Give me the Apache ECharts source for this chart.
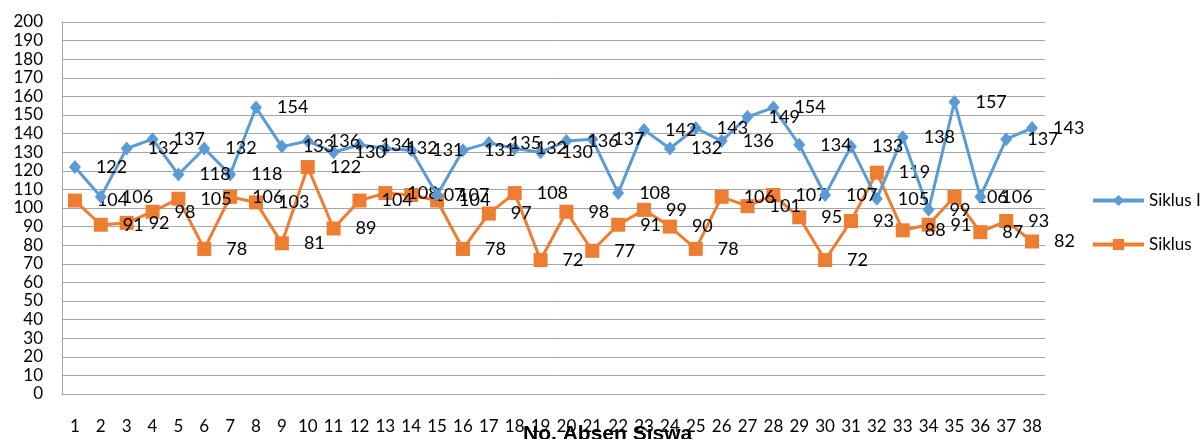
<!DOCTYPE html>
<html>
<head>
<meta charset="utf-8">
<script src="https://cdn.jsdelivr.net/npm/echarts@6/dist/echarts.min.js"></script>
<style>
html,body{margin:0;padding:0;background:#fff;}
#chart{width:1203px;height:439px;}
</style>
</head>
<body>
<div id="chart"></div>
<script>
const categories = ['1','2','3','4','5','6','7','8','9','10','11','12','13','14','15','16','17','18','19','20','21','22','23','24','25','26','27','28','29','30','31','32','33','34','35','36','37','38'];
const siklusI = [122,106,132,137,118,132,118,154,133,136,130,134,132,131,107,131,135,132,130,136,137,108,142,132,143,136,149,154,134,107,133,105,138,99,157,106,137,143];
const siklusII = [104,91,92,98,105,78,106,103,81,122,89,104,108,107,104,78,97,108,72,98,77,91,99,90,78,106,101,107,95,72,93,119,88,91,106,87,93,82];
const seriesNames = ['Siklus I','Siklus'];
const axisTitle = 'No. Absen Siswa';

const font = 'Lato, "Open Sans", sans-serif';
const chart = echarts.init(document.getElementById('chart'), null, {renderer:'canvas'});
const labelStyle = {show:true, position:'right', distance:15, color:'#000', fontSize:18, fontFamily:font};
chart.setOption({
  animation:false,
  textStyle:{fontFamily:font},
  title:{text:axisTitle, left:523, top:424, padding:0, textStyle:{fontSize:21, fontWeight:'bold', color:'#000', fontFamily:'"Liberation Sans", Arial, sans-serif'}},
  grid:{left:62, right:158, top:22, bottom:45, containLabel:false},
  legend:{
    orient:'vertical', left:1086, top:187, itemWidth:51, itemHeight:14, itemGap:27,
    textStyle:{fontSize:17, color:'#000', fontFamily:font},
    lineStyle:{width:4},
    data:[
      {name:seriesNames[0], lineStyle:{width:4, color:'#5B9BD5'}},
      {name:seriesNames[1], lineStyle:{width:4, color:'#ED7D31'}}
    ]
  },
  xAxis:{
    type:'category', data:categories, boundaryGap:true,
    axisLine:{lineStyle:{color:'#a6a6a6', width:1}},
    axisTick:{show:false},
    axisLabel:{interval:0, color:'#000', fontSize:17, margin:24, fontFamily:font}
  },
  yAxis:{
    type:'value', min:0, max:200, interval:10,
    axisLine:{show:true, lineStyle:{color:'#a6a6a6', width:1}},
    axisTick:{show:false},
    axisLabel:{color:'#000', fontSize:17, margin:19, fontFamily:font},
    splitLine:{lineStyle:{color:'#a6a6a6', width:1}}
  },
  series:[
    {name:seriesNames[0], type:'line', data:siklusI, symbol:'diamond', symbolSize:[12,14],
     lineStyle:{color:'#5B9BD5', width:3}, itemStyle:{color:'#5B9BD5'}, label:labelStyle, z:3},
    {name:seriesNames[1], type:'line', data:siklusII, symbol:'rect', symbolSize:14,
     lineStyle:{color:'#ED7D31', width:3}, itemStyle:{color:'#ED7D31'}, label:labelStyle, z:2}
  ]
});
</script>
</body>
</html>
